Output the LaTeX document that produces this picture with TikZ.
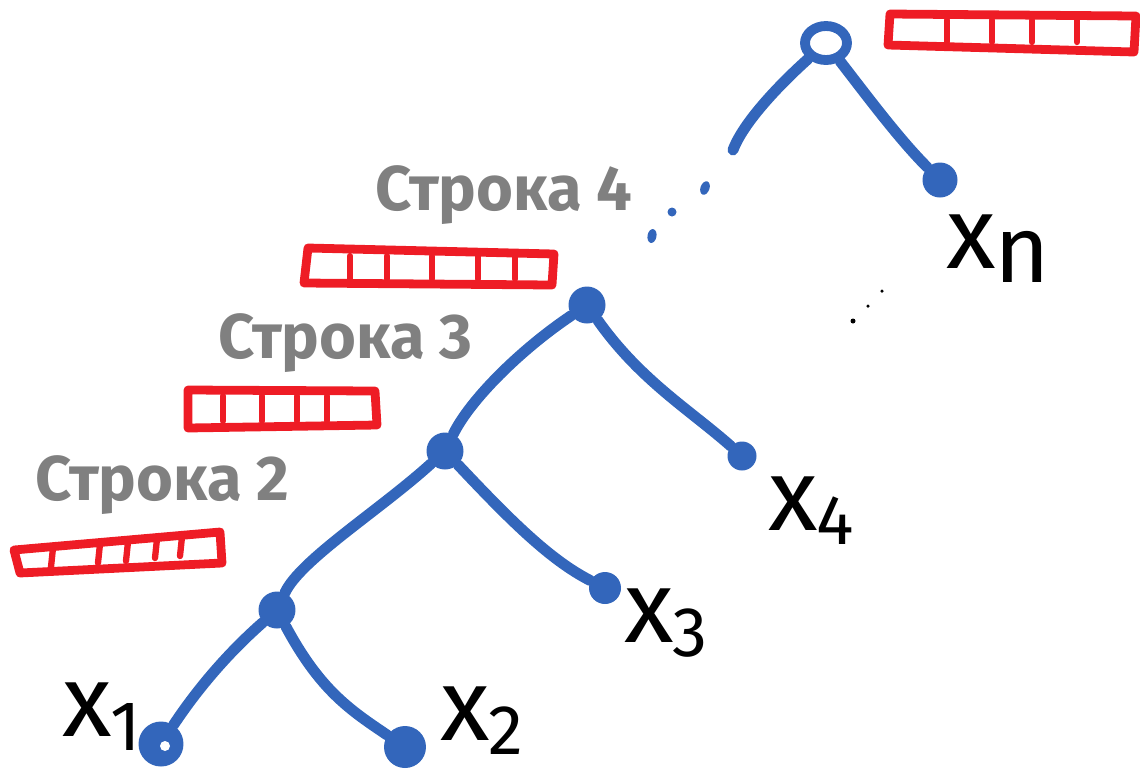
\documentclass[tikz,border=0pt]{standalone}
\usepackage{fontspec}
\setmainfont{Fira Sans}
\usetikzlibrary{shapes.geometric}
\definecolor{treeblue}{HTML}{3366BB}
\definecolor{barred}{HTML}{EE1C25}
\definecolor{notegray}{HTML}{808080}
% leaf label: a large x with a lowered index
\newcommand\xsub[2][40]{x\kern-1pt\raisebox{-8pt}{\fontsize{#1}{#1}\selectfont #2}}
\begin{document}
\begin{tikzpicture}[x=0.02cm,y=-0.02cm,
  edge/.style={draw=treeblue,line width=6.2pt,line cap=round},
  inner/.style={circle,fill=treeblue,inner sep=0pt,minimum size=0.74cm},
  leaf/.style={circle,fill=treeblue,inner sep=0pt,minimum size=0.7cm},
  ring/.style={ellipse,draw=treeblue,line width=5.6pt,inner sep=0pt,minimum width=0.84cm,minimum height=0.68cm},
  dot/.style={ellipse,fill=treeblue,inner sep=0pt,minimum width=0.18cm,minimum height=0.28cm},
  bdot/.style={circle,fill=black,inner sep=0pt,minimum size=0.1cm},
  bar/.style={draw=barred,line width=5pt,line cap=round,line join=round},
  tick/.style={draw=barred,line width=3.6pt,line cap=round},
  note/.style={text=notegray,font=\bfseries\fontsize{36}{36}\selectfont,inner sep=0pt,anchor=base west},
  xlbl/.style={text=black,font=\fontsize{58}{58}\selectfont,inner sep=0pt,anchor=base west}]
\useasboundingbox (0,0) rectangle (1140,772);

% red storage bars
\draw[bar] (890,14) -- (1136,16) -- (1134,52) -- (888,45) -- cycle;
\foreach \t in {947,992,1032,1077} \draw[tick] (\t,20) -- (\t,42);
\draw[bar] (308,248) -- (554,254) -- (552,285) -- (304,283) -- cycle;
\foreach \t in {350,387,432,478,515} \draw[tick] (\t,256) -- (\t,279);
\draw[bar] (188,390) -- (375,391) -- (377,425) -- (188,428) -- cycle;
\foreach \t in {223,262,297,327} \draw[tick] (\t,396) -- (\t,421);
\draw[bar] (14,550) -- (220,532) -- (222,563) -- (20,573) -- cycle;
\foreach \t/\u in {53/548,100/544,128/542,157/539,182/537} \draw[tick] (\t,\u) -- (\t-2,\u+19);

% row captions
\node[note] (r4) at (375,210) {Строка 4};
\node[note] (r3) at (218,358) {Строка 3};
\node[note] (r2) at (35,500) {Строка 2};

% tree nodes
\node[ring] (root) at (826,43) {};
\node[leaf] (xn) at (940,180) {};
\coordinate (cut) at (733,150);
\node[inner] (a) at (587,305) {};
\node[inner] (b) at (445,451) {};
\node[inner] (c) at (277,610) {};
\node[leaf,minimum size=0.9cm] (l1) at (161,744) {};
\node[leaf,minimum size=0.84cm] (l2) at (405,747) {};
\node[leaf,minimum size=0.64cm] (l3) at (605,588) {};
\node[leaf,minimum size=0.58cm] (l4) at (742,456) {};
\fill[white] (l1.center) ++(4,2) circle (5);

% branches
\draw[edge] (root) .. controls (790,75) and (745,118) .. (cut);
\draw[edge] (root) .. controls (870,100) and (900,140) .. (xn);
\draw[edge] (a) .. controls (520,350) and (470,400) .. (b);
\draw[edge] (a) .. controls (640,380) and (690,410) .. (l4);
\draw[edge] (b) .. controls (380,510) and (300,560) .. (c);
\draw[edge] (b) .. controls (510,520) and (550,560) .. (l3);
\draw[edge] (c) .. controls (220,660) and (190,700) .. (l1);
\draw[edge] (c) .. controls (320,690) and (350,710) .. (l2);

% elided levels
\node[dot,rotate=-20] (d1) at (705,188) {};
\node[dot,minimum height=0.18cm] (d2) at (672,212) {};
\node[dot,rotate=-10] (d3) at (652,236) {};
\node[bdot] (e1) at (853,321) {};
\node[bdot,minimum size=0.07cm] (e2) at (868,306) {};
\node[bdot,minimum size=0.07cm] (e3) at (882,291) {};

% leaf labels
\node[xlbl] (t1) at (62,736) {\xsub{1}};
\node[xlbl] (t2) at (440,740) {\xsub{2}};
\node[xlbl] (t3) at (624,642) {\xsub{3}};
\node[xlbl] (t4) at (768,530) {\xsub{4}};
\node[xlbl] (tn) at (946,268) {\xsub[54]{n}};
\end{tikzpicture}
\end{document}
